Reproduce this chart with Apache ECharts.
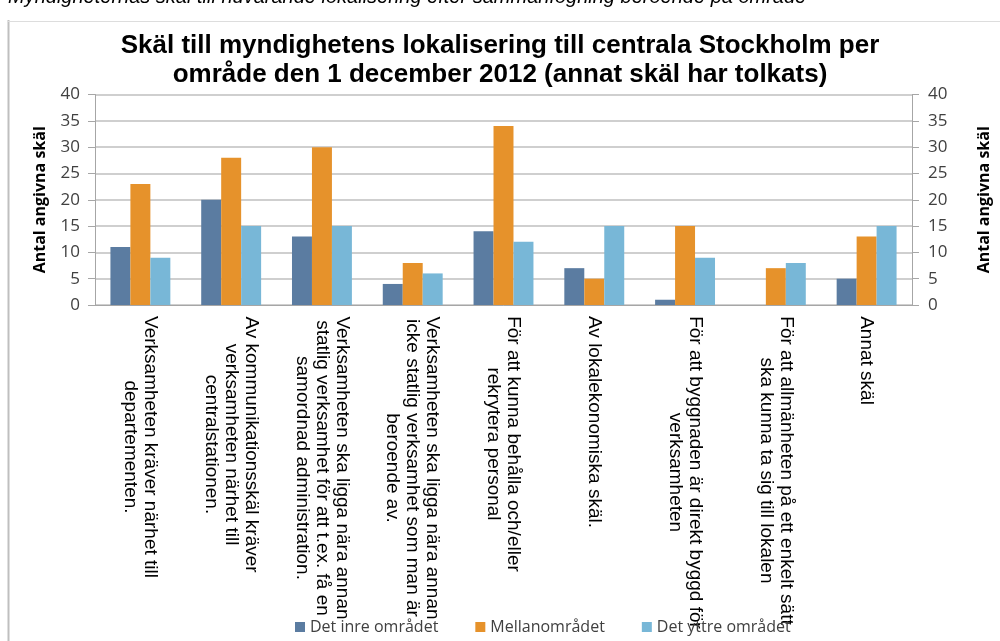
<!DOCTYPE html>
<html>
<head>
<meta charset="utf-8">
<script src="https://cdn.jsdelivr.net/npm/echarts@6/dist/echarts.min.js"></script>
<style>
    html, body { margin: 0; padding: 0; background: #fff; }
    #chart { width: 1000px; height: 641px; }
</style>
</head>
<body>
<div id="chart"></div>
<script>
const categories = [
    'Verksamheten kräver närhet till\ndepartementen.',
    'Av kommunikationsskäl kräver\nverksamheten närhet till\ncentralstationen.',
    'Verksamheten ska ligga nära annan\nstatlig verksamhet för att t.ex. få en\nsamordnad administration.',
    'Verksamheten ska ligga nära annan\nicke statlig verksamhet som man är\nberoende av.',
    'För att kunna behålla och/eller\nrekrytera personal',
    'Av lokalekonomiska skäl.',
    'För att byggnaden är direkt byggd för\nverksamheten',
    'För att allmänheten på ett enkelt sätt\nska kunna ta sig till lokalen',
    'Annat skäl'
];
const seriesNames = ['Det inre området', 'Mellanområdet', 'Det yttre området'];
const inreValues = [11, 20, 13, 4, 14, 7, 1, 0, 5];
const mellanValues = [23, 28, 30, 8, 34, 5, 15, 7, 13];
const yttreValues = [9, 15, 15, 6, 12, 15, 9, 8, 15];
const colors = ['#5B7CA1', '#E6922B', '#78B7D7'];

const labelFont = '19px "Liberation Sans", Arial, sans-serif';

// widest line of each category label, so the lines can be centred on each other
const ctx = document.createElement('canvas').getContext('2d');
ctx.font = labelFont;
const rich = {};
categories.forEach((c, i) => {
    const w = Math.max(...c.split('\n').map(l => ctx.measureText(l).width));
    rich['c' + i] = {
        width: Math.ceil(w) + 2,
        align: 'center',
        fontSize: 19,
        lineHeight: 20,
        fontFamily: '"Liberation Sans", Arial, sans-serif',
        color: '#000'
    };
});

const chart = echarts.init(document.getElementById('chart'));

const yAxisBase = {
    type: 'value',
    min: 0,
    max: 40,
    interval: 5,
    name: 'Antal angivna skäl',
    nameLocation: 'middle',
    nameRotate: 90,
    nameTextStyle: {
        fontFamily: '"Open Sans", sans-serif',
        fontWeight: 'bold',
        fontSize: 16,
        color: '#000'
    },
    axisLine: { show: true, lineStyle: { color: '#A6A6A6' } },
    axisTick: { show: true, length: 7, lineStyle: { color: '#A6A6A6' } },
    axisLabel: {
        fontFamily: '"Open Sans", sans-serif',
        fontSize: 17,
        color: '#404040'
    }
};

const option = {
    backgroundColor: '#fff',
    animation: false,
    color: colors,
    title: {
        text: 'Skäl till myndighetens lokalisering till centrala Stockholm per\nområde den 1 december 2012 (annat skäl har tolkats)',
        left: 'center',
        top: 26,
        textStyle: {
            fontFamily: '"Liberation Sans", Arial, sans-serif',
            fontSize: 26,
            fontWeight: 'bold',
            lineHeight: 29,
            color: '#000'
        }
    },
    graphic: [
        {
            type: 'text',
            left: 8,
            top: -13,
            style: {
                text: 'Myndigheternas skäl till nuvarande lokalisering efter sammanfogning beroende på område',
                font: 'italic 20px "Liberation Sans", Arial, sans-serif',
                fill: '#000'
            }
        },
        {
            type: 'line',
            shape: { x1: 8.5, y1: 20, x2: 8.5, y2: 641 },
            style: { stroke: '#BFBFBF', lineWidth: 2 }
        },
        {
            type: 'line',
            shape: { x1: 8, y1: 21.5, x2: 1000, y2: 21.5 },
            style: { stroke: '#DDDDDD', lineWidth: 1 }
        }
    ],
    legend: {
        bottom: 1,
        left: 290,
        icon: 'rect',
        itemWidth: 10,
        itemHeight: 10,
        itemGap: 37,
        textStyle: {
            fontFamily: '"Open Sans", sans-serif',
            fontSize: 16,
            color: '#404040'
        },
        data: seriesNames
    },
    grid: {
        left: 95,
        right: 82,
        top: 94.5,
        bottom: 336
    },
    xAxis: {
        type: 'category',
        data: categories,
        axisLine: { lineStyle: { color: '#A6A6A6' } },
        axisTick: { show: false },
        axisLabel: {
            interval: 0,
            rotate: -90,
            margin: 10,
            formatter: (value, index) => '{c' + index + '|' + value + '}',
            rich: rich
        }
    },
    yAxis: [
        Object.assign({}, yAxisBase, {
            position: 'left',
            nameGap: 47,
            axisLabel: Object.assign({}, yAxisBase.axisLabel, { margin: 15 }),
            splitLine: { show: true, lineStyle: { color: '#BFBFBF', width: 1.5 } }
        }),
        Object.assign({}, yAxisBase, {
            position: 'right',
            nameGap: 64,
            axisLabel: Object.assign({}, yAxisBase.axisLabel, { margin: 16 }),
            splitLine: { show: false }
        })
    ],
    series: [
        {
            name: seriesNames[0],
            type: 'bar',
            data: inreValues,
            barGap: '0%',
            barCategoryGap: '34%',
            itemStyle: { color: colors[0] }
        },
        {
            name: seriesNames[1],
            type: 'bar',
            data: mellanValues,
            barGap: '0%',
            barCategoryGap: '34%',
            itemStyle: { color: colors[1] }
        },
        {
            name: seriesNames[2],
            type: 'bar',
            data: yttreValues,
            barGap: '0%',
            barCategoryGap: '34%',
            itemStyle: { color: colors[2] }
        }
    ]
};

chart.setOption(option);
</script>
</body>
</html>
